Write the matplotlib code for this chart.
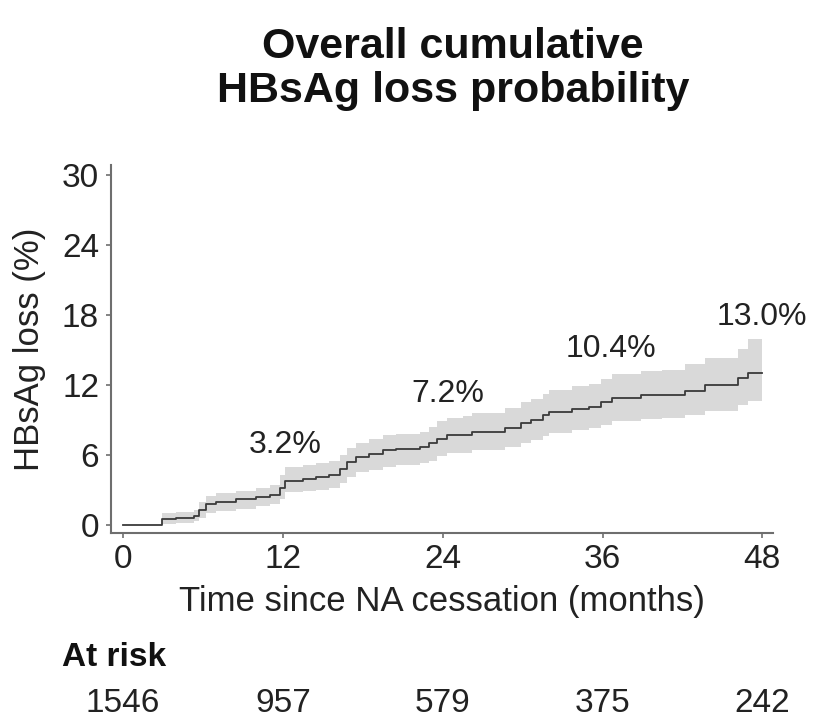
import matplotlib
matplotlib.use("Agg")
import matplotlib.pyplot as plt

plt.rcParams["font.family"] = ["Liberation Sans", "DejaVu Sans"]

# Kaplan-Meier style cumulative incidence (months, %)
months = [0, 2.9, 4.0, 5.3, 5.7, 6.2, 7.0, 8.5, 10.0, 11.0, 11.8, 12.2, 13.5, 14.5,
          15.5, 16.3, 16.8, 17.5, 18.5, 19.5, 20.5, 22.3, 23.0, 23.6, 24.3, 25.5,
          26.2, 28.7, 29.9, 30.6, 31.5, 32.0, 33.7, 35.0, 35.9, 36.7, 38.9, 40.5,
          42.2, 43.7, 46.2, 46.9, 48.0]
loss = [0, 0.5, 0.6, 0.8, 1.3, 1.8, 2.0, 2.2, 2.4, 2.6, 3.2, 3.8, 3.9, 4.1,
        4.3, 4.8, 5.4, 5.8, 6.1, 6.4, 6.5, 6.7, 7.0, 7.4, 7.7, 7.7,
        8.0, 8.3, 8.7, 9.0, 9.4, 9.7, 9.9, 10.1, 10.5, 10.9, 11.1, 11.1,
        11.5, 12.0, 12.6, 13.0, 13.0]
lower = [0, 0.1, 0.15, 0.3, 0.6, 1.0, 1.2, 1.4, 1.6, 1.8, 2.2, 2.8, 2.9, 3.0,
         3.2, 3.6, 4.1, 4.5, 4.7, 5.0, 5.1, 5.3, 5.5, 5.9, 6.2, 6.2,
         6.4, 6.7, 7.0, 7.3, 7.6, 7.9, 8.1, 8.3, 8.6, 8.9, 9.1, 9.2,
         9.4, 9.8, 10.3, 10.6, 10.6]
upper = [0, 1.0, 1.1, 1.3, 2.0, 2.5, 2.7, 2.9, 3.2, 3.4, 4.3, 5.0, 5.1, 5.3,
         5.5, 6.0, 6.6, 7.0, 7.4, 7.7, 7.8, 8.0, 8.4, 8.9, 9.2, 9.3,
         9.6, 10.0, 10.5, 10.8, 11.2, 11.6, 11.9, 12.1, 12.5, 12.9, 13.2, 13.3,
         13.8, 14.3, 15.1, 15.9, 15.9]

# yearly estimates printed on the chart
label_months = [12.2, 24.4, 36.6, 48.0]
label_y = [6.2, 10.5, 14.4, 17.1]
label_text = ["3.2%", "7.2%", "10.4%", "13.0%"]

risk_months = [0, 12, 24, 36, 48]
at_risk = [1546, 957, 579, 375, 242]

x_ticks = [0, 12, 24, 36, 48]
y_ticks = [0, 6, 12, 18, 24, 30]

W, H = 817, 721
fig = plt.figure(figsize=(W / 100, H / 100), dpi=100)
ax = fig.add_axes([111 / W, (H - 533) / H, 662 / W, 368 / H])

ax.fill_between(months, lower, upper, step="post", color="#d9d9d9", linewidth=0)
ax.step(months, loss, where="post", color="#3a3a3a", linewidth=1.3)

for x, y, s in zip(label_months, label_y, label_text):
    ax.text(x, y, s, ha="center", va="baseline", fontsize=23, color="#222222")

ax.set_xlim(-0.9, 48.8)
ax.set_ylim(-0.69, 30.86)
ax.set_xticks(x_ticks)
ax.set_yticks(y_ticks)

for side in ["top", "right"]:
    ax.spines[side].set_visible(False)
for side in ["left", "bottom"]:
    ax.spines[side].set_color("#6e6e6e")
    ax.spines[side].set_linewidth(1.5)

ax.tick_params(axis="both", length=3.6, width=1.2, color="#6e6e6e",
               labelsize=24, labelcolor="#222222")
ax.tick_params(axis="x", pad=4)
ax.tick_params(axis="y", pad=5)

ax.set_xlabel("Time since NA cessation (months)", fontsize=25, color="#222222")
ax.xaxis.set_label_coords(0.5, -0.141)
ax.set_ylabel("HBsAg loss (%)", fontsize=25, color="#222222")
ax.yaxis.set_label_coords(-0.098, 0.5)

# title, two lines
fig.text(453 / W, 1 - 58 / H, "Overall cumulative", ha="center", va="baseline",
         fontsize=31, fontweight="bold", color="#111111")
fig.text(453 / W, 1 - 102 / H, "HBsAg loss probability", ha="center", va="baseline",
         fontsize=31, fontweight="bold", color="#111111")

# number at risk table
fig.text(62 / W, 1 - 666 / H, "At risk", ha="left", va="baseline",
         fontsize=24, fontweight="bold", color="#111111")
for m, n in zip(risk_months, at_risk):
    ax.annotate(str(n), xy=(m, 0), xycoords=("data", "figure fraction"),
                xytext=(m, 1 - 712 / H), textcoords=("data", "figure fraction"),
                ha="center", va="baseline", fontsize=24, color="#222222")

fig.savefig("out.png", dpi=100)
